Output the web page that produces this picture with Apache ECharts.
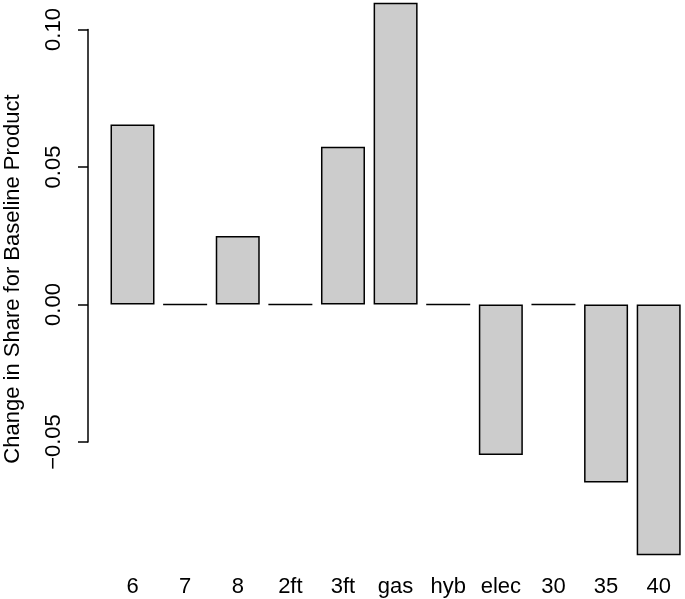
<!DOCTYPE html>
<html>
<head>
<meta charset="utf-8">
<script src="https://cdn.jsdelivr.net/npm/echarts@6/dist/echarts.min.js"></script>
<style>
html,body{margin:0;padding:0;background:#fff;}
#c{width:685px;height:599px;}
</style>
</head>
<body>
<div id="c"></div>
<script>
const categories = ['6','7','8','2ft','3ft','gas','hyb','elec','30','35','40'];
const shareChange = [0.0655, 0, 0.0249, 0, 0.0574, 0.1097, 0, -0.0547, 0, -0.0647, -0.0912];
const yTicks = [-0.05, 0.00, 0.05, 0.10];
const yTitle = 'Change in Share for Baseline Product';

const FONT = '"Liberation Sans", Arial, Helvetica, sans-serif';
const chart = echarts.init(document.getElementById('c'), null, {renderer:'canvas'});

function fmt(v){
  const s = Math.abs(v).toFixed(2);
  return (v < -1e-9 ? '\u2212' : '') + s;
}

chart.setOption({
  animation:false,
  backgroundColor:'#ffffff',
  grid:[
    {left:106.2, top:0, width:580.5, height:576, containLabel:false},
    {left:88, top:29.5, width:1, height:412.5, containLabel:false}
  ],
  xAxis:[
    {type:'category', gridIndex:0, data:categories,
     axisLine:{show:false}, axisTick:{show:false}, splitLine:{show:false},
     axisLabel:{interval:0, fontSize:22, color:'#000', fontFamily:FONT, margin:0}},
    {type:'value', gridIndex:1, show:false}
  ],
  yAxis:[
    {type:'value', gridIndex:0, min:-0.09873, max:0.11073, show:false},
    {type:'value', gridIndex:1, min:yTicks[0], max:yTicks[yTicks.length-1], interval:0.05,
     axisLine:{show:true, lineStyle:{color:'#000', width:1.5}},
     axisTick:{show:true, inside:false, length:10, lineStyle:{color:'#000', width:1.5}},
     splitLine:{show:false},
     axisLabel:{rotate:90, fontSize:22, color:'#000', fontFamily:FONT, margin:23, formatter:fmt}}
  ],
  graphic:[
    {type:'text', x:13, y:279, rotation:Math.PI/2,
     style:{text:yTitle, fontSize:22, fontFamily:FONT, fill:'#000', align:'center', verticalAlign:'middle'}}
  ],
  series:[
    {type:'bar', xAxisIndex:0, yAxisIndex:0, data:shareChange, barWidth:44,
     itemStyle:{color:'#cccccc', borderColor:'#000', borderWidth:1.5}}
  ]
});
</script>
</body>
</html>
